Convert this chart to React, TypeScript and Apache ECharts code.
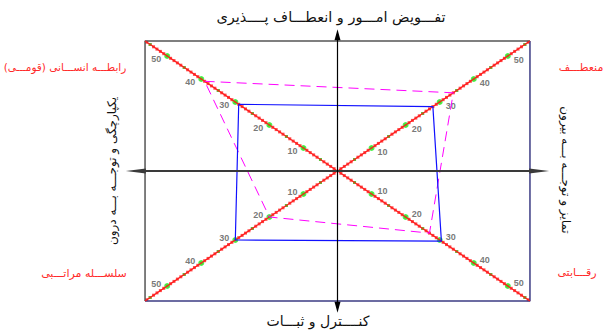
import React, { useEffect, useRef } from "react";
import * as echarts from "echarts";

// Quadrants in order: top-left, top-right, bottom-right, bottom-left
const quadrantNames = ["رابطـــه انســـانی (قومـــی)", "منعطـــف", "رقـــابتی", "سلســـله مراتـــبی"];
const quadrantSigns: [number, number][] = [[-1, 1], [1, 1], [1, -1], [-1, -1]];
const blueValues = [29, 28, 30.5, 30];
const magentaValues = [39, 34, 27, 20];
const tickLabels = [10, 20, 30, 40, 50];
const minorTicks = [5, 15, 25, 35, 45, 55];
const boxExtent = 56.5;
const axisTitles = {
  top: "تفـــویض امـــور و انعطـــاف پــــذیری",
  bottom: "کنــــترل و ثبـــات",
  left: "یکپارچگی و توجـــه بـــه درون",
  right: "تمایز و توجـــه بـــه بیرون",
};

const FONT = "'DejaVu Sans', Arial, sans-serif";

function pt(q: number, v: number): [number, number] {
  const [sx, sy] = quadrantSigns[q];
  return [sx * v, sy * v];
}

export default function App() {
  const ref = useRef<HTMLDivElement>(null);
  useEffect(() => {
    if (!ref.current) return;
    const chart = echarts.init(ref.current, undefined, { renderer: "svg" });

    const polygon = (vals: number[]) => {
      const d = vals.map((v, q) => pt(q, v));
      d.push(d[0]);
      return d;
    };

    // graduation marks along the diagonals (scale, not data)
    const redTicks: [number, number][] = [];
    for (let q = 0; q < 4; q++) {
      for (let v = 1; v <= Math.floor(boxExtent); v++) redTicks.push(pt(q, v));
    }
    const greenMinor: [number, number][] = [];
    quadrantSigns.forEach((_, q) => minorTicks.forEach((v) => greenMinor.push(pt(q, v))));

    const labelPos = [
      { position: "left", offset: [0, 3] },
      { position: "right", offset: [0, 4] },
      { position: "right", offset: [0, -3] },
      { position: "left", offset: [0, -2] },
    ];
    const majorData: any[] = [];
    quadrantSigns.forEach((_, q) =>
      tickLabels.forEach((v) =>
        majorData.push({
          name: String(v),
          value: pt(q, v),
          label: { position: labelPos[q].position, offset: labelPos[q].offset, distance: 3 },
        })
      )
    );

    const E = boxExtent;
    const AX = 59.2;

    const option: any = {
      animation: false,
      grid: { left: 124.6, right: 53.6, top: 27.25, bottom: 16.25 },
      xAxis: { type: "value", min: -62.5, max: 62.5, show: false },
      yAxis: { type: "value", min: -62.5, max: 62.5, show: false },
      series: [
        {
          type: "line",
          data: [[-E, -E], [-E, E], [E, E]],
          symbol: "none",
          lineStyle: { color: "#555555", width: 1.5 },
          silent: true,
          markLine: {
            silent: true,
            symbol: ["triangle", "triangle"],
            symbolSize: [5, 20],
            lineStyle: { color: "#3a3a3a", width: 2, type: "solid" },
            label: { show: false },
            data: [[{ coord: [-AX, 0] }, { coord: [AX, 0] }]],
          },
        },
        {
          type: "line",
          data: [[E, E], [E, -E], [-E, -E]],
          symbol: "none",
          lineStyle: { color: "#3c3c84", width: 1.5 },
          silent: true,
          markLine: {
            silent: true,
            symbol: ["triangle", "triangle"],
            symbolSize: [6, 11],
            lineStyle: { color: "#000000", width: 1.2, type: "solid" },
            label: { show: false },
            data: [[{ coord: [0, AX] }, { coord: [0, -AX] }]],
          },
        },
        {
          type: "line",
          data: [[-E, E], [E, -E]],
          symbol: "none",
          lineStyle: { color: "#ff1a1a", width: 1.2 },
          silent: true,
        },
        {
          type: "line",
          data: [[-E, -E], [E, E]],
          symbol: "none",
          lineStyle: { color: "#ff1a1a", width: 1.2 },
          silent: true,
        },
        {
          type: "scatter",
          data: redTicks,
          symbol: "rect",
          symbolSize: 3,
          itemStyle: { color: "#ff1a1a" },
          silent: true,
        },
        {
          type: "scatter",
          data: greenMinor,
          symbol: "rect",
          symbolSize: 3,
          itemStyle: { color: "#33dd33" },
          silent: true,
        },
        {
          type: "line",
          data: polygon(magentaValues),
          symbol: "none",
          lineStyle: { color: "#ff00ff", width: 1, type: [10, 6] },
          silent: true,
        },
        {
          type: "line",
          data: polygon(blueValues),
          symbol: "none",
          lineStyle: { color: "#1010ff", width: 1.2 },
          silent: true,
        },
        {
          type: "scatter",
          data: majorData,
          symbol: "circle",
          symbolSize: 6,
          itemStyle: { color: "#22ee22" },
          silent: true,
          label: {
            show: true,
            formatter: "{b}",
            color: "#555555",
            fontSize: 9,
            fontWeight: "bold",
            fontFamily: "'Liberation Sans', Arial, sans-serif",
          },
        },
      ],
      graphic: [
        {
          type: "text",
          x: 331,
          y: 17,
          style: { text: axisTitles.top, fill: "#111", font: `14.5px ${FONT}`, align: "center", verticalAlign: "middle" },
        },
        {
          type: "text",
          x: 318,
          y: 321,
          style: { text: axisTitles.bottom, fill: "#111", font: `14px ${FONT}`, align: "center", verticalAlign: "middle" },
        },
        {
          type: "text",
          x: 112,
          y: 171,
          rotation: Math.PI / 2,
          style: { text: axisTitles.left, fill: "#111", font: `12px ${FONT}`, align: "center", verticalAlign: "middle" },
        },
        {
          type: "text",
          x: 566,
          y: 170,
          rotation: -Math.PI / 2,
          style: { text: axisTitles.right, fill: "#111", font: `12px ${FONT}`, align: "center", verticalAlign: "middle" },
        },
        {
          type: "text",
          x: 65,
          y: 67,
          style: { text: quadrantNames[0], fill: "#ff2a2a", font: `10.5px ${FONT}`, align: "center", verticalAlign: "middle" },
        },
        {
          type: "text",
          x: 581,
          y: 67,
          style: { text: quadrantNames[1], fill: "#ff2a2a", font: `11px ${FONT}`, align: "center", verticalAlign: "middle" },
        },
        {
          type: "text",
          x: 577,
          y: 272,
          style: { text: quadrantNames[2], fill: "#ff2a2a", font: `11px ${FONT}`, align: "center", verticalAlign: "middle" },
        },
        {
          type: "text",
          x: 84,
          y: 273,
          style: { text: quadrantNames[3], fill: "#ff2a2a", font: `11px ${FONT}`, align: "center", verticalAlign: "middle" },
        },
      ],
    };
    chart.setOption(option);
    return () => chart.dispose();
  }, []);
  return <div ref={ref} style={{ position: "fixed", left: 0, top: 0, width: 604, height: 331, background: "#fff" }} />;
}
